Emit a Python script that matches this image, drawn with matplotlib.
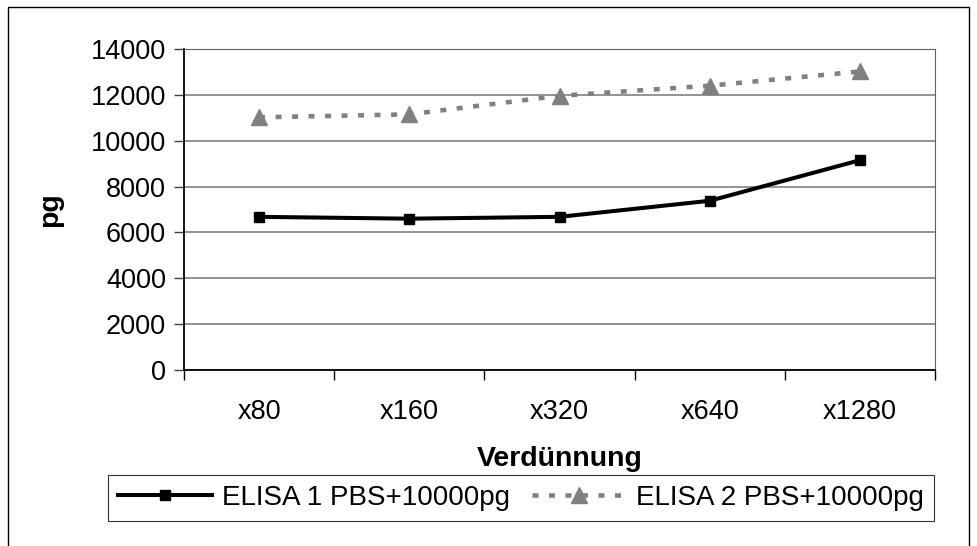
import numpy as np
import matplotlib.pyplot as plt
from matplotlib.patches import Rectangle

plt.rcParams['font.family'] = ['Liberation Sans', 'DejaVu Sans']

categories = ['x80', 'x160', 'x320', 'x640', 'x1280']
elisa1 = [6680, 6600, 6680, 7380, 9150]
elisa2 = [11020, 11150, 11960, 12400, 13020]
yticks = [0, 2000, 4000, 6000, 8000, 10000, 12000, 14000]

fig = plt.figure(figsize=(9.78, 5.46), dpi=100)
ax = fig.add_axes([184 / 978, 1 - 370 / 546, 751 / 978, 321 / 546])

x = np.arange(len(categories))
l1, = ax.plot(x, elisa1, color='black', lw=2.9, marker='s', ms=7.5,
              label='ELISA 1 PBS+10000pg')
l2, = ax.plot(x, elisa2, color='#808080', lw=3.3, ls=(0, (1.3, 2.3)),
              dash_capstyle='butt', marker='^', ms=11,
              label='ELISA 2 PBS+10000pg')

ax.set_xlim(-0.5, len(categories) - 0.5)
ax.set_ylim(0, 14000)
ax.set_yticks(yticks)
ax.set_yticklabels([str(v) for v in yticks], fontsize=19.5)
ax.set_xticks(x)
ax.set_xticklabels(categories, fontsize=19.5)
ax.tick_params(axis='x', length=0, pad=21)
ax.set_xticks(np.arange(-0.5, len(categories)), minor=True)
ax.tick_params(axis='x', which='minor', length=7, width=1, direction='out')
ax.tick_params(axis='y', length=7, width=1, direction='out', pad=6,
               color='#404040')
ax.grid(axis='y', color='#808080', lw=1.2)
ax.set_axisbelow(True)
for s in ['top', 'right']:
    ax.spines[s].set_color('#606060')
for s in ['left', 'bottom']:
    ax.spines[s].set_color('black')
    ax.spines[s].set_linewidth(1.3)

ax.set_xlabel('Verdünnung', fontsize=20.5, fontweight='bold', labelpad=15)
ax.set_ylabel('pg', fontsize=20.5, fontweight='bold', labelpad=20)

leg = fig.legend(handles=[l1, l2], loc='center',
                 bbox_to_anchor=(521 / 978, 1 - 498 / 546), ncol=2,
                 fontsize=20, frameon=True, fancybox=False, edgecolor='black',
                 handlelength=3.4, columnspacing=0.8, handletextpad=0.35,
                 borderpad=0.35, borderaxespad=0)
leg.get_frame().set_linewidth(0.8)

# outer chart border
fig.patches.append(Rectangle((8 / 978, -0.01), 961 / 978, 1 - 7 / 546 + 0.01,
                             transform=fig.transFigure, fill=False,
                             edgecolor='black', lw=1))

fig.savefig('out.png', dpi=100)
